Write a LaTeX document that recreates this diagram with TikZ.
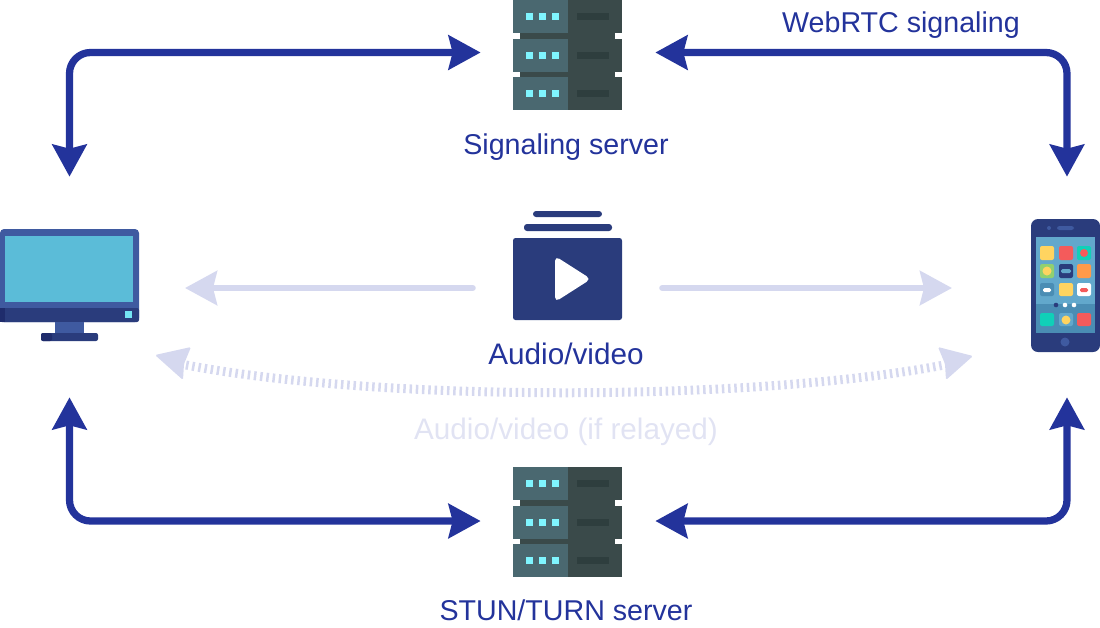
\documentclass[tikz,border=0pt]{standalone}
\usepackage{fontspec}
\setmainfont{Liberation Sans}
\usetikzlibrary{arrows.meta}

\definecolor{linkblue}{HTML}{23339B}
\definecolor{lightlink}{HTML}{D5D8EF}
\definecolor{lighttext}{HTML}{E1E3F3}
\definecolor{rackleft}{HTML}{4A6870}
\definecolor{rackright}{HTML}{3A4A4A}
\definecolor{rackdark}{HTML}{2E3E3E}
\definecolor{rackled}{HTML}{7FF5FF}
\definecolor{navyicon}{HTML}{2A3C7C}
\definecolor{navydark}{HTML}{1F2C6C}
\definecolor{midicon}{HTML}{3F5AA0}
\definecolor{screenblue}{HTML}{5BBCD8}
\definecolor{phonescreen}{HTML}{62A8CC}
\definecolor{phonedock}{HTML}{4A8DB4}
\definecolor{appyellow}{HTML}{FFD460}
\definecolor{appred}{HTML}{F45B5B}
\definecolor{appteal}{HTML}{10D0B8}
\definecolor{apporange}{HTML}{FF9A4A}
\definecolor{appgreen}{HTML}{90D070}

\tikzset{
  linktext/.style={font=\fontsize{16.3pt}{18pt}\selectfont, text=linkblue},
  widetext/.style={font=\fontsize{16.9pt}{18pt}\selectfont},
  slot/.style={inner sep=0pt, minimum width=#1*0.02cm, minimum height=2cm},
  headtip/.tip={Stealth[length=0.64cm,width=0.68cm,inset=0.08cm]},
  signal/.style={draw=linkblue, line width=0.145cm, rounded corners=0.42cm, headtip-headtip},
  media/.style={draw=lightlink, line width=0.125cm, line cap=round, -headtip},
  relay/.style={draw=lightlink, line width=0.18cm, dash pattern=on 0.05cm off 0.075cm},
  rackunit/.pic={
    \fill [rackleft] (513,#1) rectangle (568,#1+33);
    \fill [rackright] (568,#1) rectangle (622,#1+33);
    \fill [rackled] (526,#1+13) rectangle (533,#1+20);
    \fill [rackled] (539,#1+13) rectangle (546,#1+20);
    \fill [rackled] (552,#1+13) rectangle (559,#1+20);
    \fill [rackdark] (577,#1+13) rectangle (609,#1+20);
  },
  serverrack/.pic={
    \fill [rackright] (520,#1+30) rectangle (615,#1+80);
    \pic {rackunit=#1};
    \pic {rackunit=#1+39};
    \pic {rackunit=#1+77};
  },
  appicon/.style={rounded corners=0.04cm},
}

\begin{document}
\begin{tikzpicture}[x=0.02cm,y=-0.02cm]
\useasboundingbox (0,0) rectangle (1100,627);

% servers
\pic {serverrack=0};
\pic {serverrack=467};
\node [slot=174] (sigserver) at (568,52.5) {};
\node [slot=174] (stunserver) at (568,521) {};
\node [linktext] (siglabel) at (566,147) {Signaling server};
\node [linktext] (stunlabel) at (566,610) {STUN/TURN server};
\node [linktext] (webrtclabel) at (901,25) {WebRTC signaling};

% monitor
\fill [midicon, rounded corners=0.08cm] (0,229) rectangle (139,322);
\fill [screenblue] (5,236) rectangle (133,302);
\fill [navyicon, rounded corners=0.04cm] (0,308) rectangle (139,322);
\fill [navydark] (0,308) rectangle (5,322);
\fill [rackled!70!screenblue] (125,311) rectangle (132,318);
\fill [midicon] (55,322) rectangle (84,333);
\fill [navyicon, rounded corners=0.04cm] (41,333) rectangle (98,341);
\fill [navydark, rounded corners=0.04cm] (41,333) rectangle (52,341);
\node [minimum width=2.72cm, minimum height=4.4cm, inner sep=0pt] (monitor) at (69.5,287) {};

% phone
\fill [navyicon, rounded corners=0.14cm] (1031,219) rectangle (1100,352);
\fill [phonescreen] (1036,237) rectangle (1095,333);
\fill [phonedock] (1036,304) rectangle (1095,333);
\fill [midicon] (1049,228) circle (2);
\fill [midicon, rounded corners=0.05cm] (1057,226) rectangle (1074,230);
\fill [midicon] (1065,342) circle (4.5);
\fill [appyellow, appicon] (1040,246) rectangle (1054,260);
\fill [appred, appicon] (1059,246) rectangle (1073,260);
\fill [appteal, appicon] (1077,246) rectangle (1091,260);
\fill [appred] (1084,253) circle (4);
\fill [appgreen, appicon] (1040,264) rectangle (1054,278);
\fill [appyellow] (1047,271) circle (4.5);
\fill [navyicon, appicon] (1059,264) rectangle (1073,278);
\fill [phonescreen, rounded corners=0.03cm] (1061,269) rectangle (1071,273);
\fill [apporange, appicon] (1077,264) rectangle (1091,278);
\fill [phonedock, appicon] (1040,283) rectangle (1054,296);
\fill [white, rounded corners=0.03cm] (1043,288) rectangle (1051,292);
\fill [appyellow, appicon] (1059,283) rectangle (1073,296);
\fill [white, appicon] (1077,283) rectangle (1091,296);
\fill [appred, rounded corners=0.03cm] (1080,288) rectangle (1088,292);
\fill [navyicon] (1056,305) circle (2.3);
\fill [white] (1065,305) circle (2.3);
\fill [white] (1074,305) circle (2.3);
\fill [appteal, appicon] (1040,313) rectangle (1054,326);
\fill [phonescreen, appicon] (1059,313) rectangle (1073,326);
\fill [appyellow] (1066,320) circle (4.5);
\fill [appred, appicon] (1077,313) rectangle (1091,326);
\node [minimum width=2.72cm, minimum height=4.4cm, inner sep=0pt] (phone) at (1067,287) {};

% video
\fill [navyicon, rounded corners=0.05cm] (513,238) rectangle (622,320);
\fill [navyicon, rounded corners=0.06cm] (524,224) rectangle (612,231);
\fill [navyicon, rounded corners=0.06cm] (533,211) rectangle (602,217);
\fill [white, rounded corners=0.1cm] (555,256) -- (591,279) -- (555,302) -- cycle;
\node [minimum width=3.78cm, minimum height=2cm, inner sep=0pt] (video) at (567.5,288) {};
\node [linktext, widetext] (avlabel) at (566,354) {Audio/video};
\node [linktext, widetext, text=lighttext] (relaylabel) at (566,432) {Audio/video (if relayed)};

\coordinate (avleft) at (185,288);
\coordinate (avright) at (952,288);
\coordinate (relayleft) at (186,365);
\coordinate (relayright) at (944,365);

% signaling links
\draw [signal] (monitor.north) |- (sigserver.west);
\draw [signal] (sigserver.east) -| (phone.north);
\draw [signal] (monitor.south) |- (stunserver.west);
\draw [signal] (stunserver.east) -| (phone.south);

% media links
\draw [media] (video.west) -- (avleft);
\draw [media] (video.east) -- (avright);
\draw [relay] (relayleft) .. controls (380,402) and (750,402) .. (relayright);
\fill [lightlink, rounded corners=0.03cm] (155,355) -- (191,347) -- (184,364) -- (183,380) -- cycle;
\fill [lightlink, rounded corners=0.03cm] (973,356) -- (938,347) -- (945,364) -- (946,380) -- cycle;

\end{tikzpicture}
\end{document}
